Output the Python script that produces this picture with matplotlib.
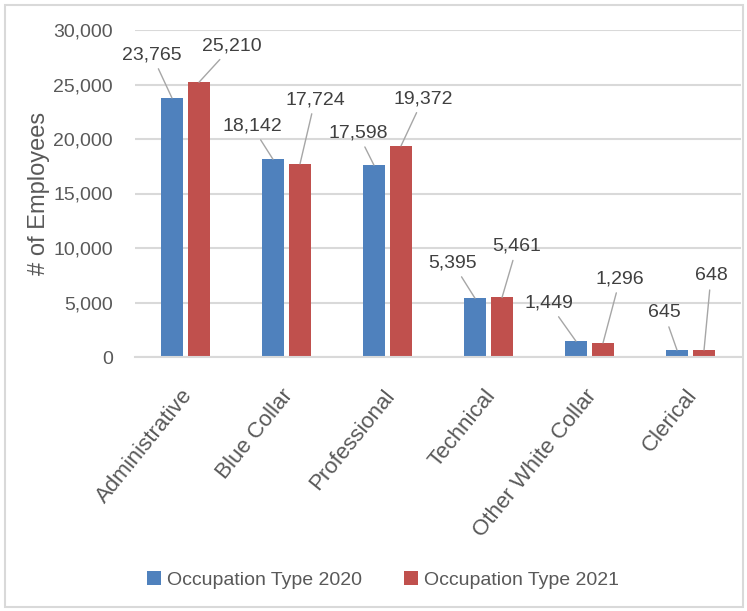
import matplotlib
matplotlib.use("Agg")
import matplotlib.pyplot as plt
import matplotlib.patches as patches
import numpy as np

# Data
categories = ["Administrative", "Blue Collar", "Professional",
              "Technical", "Other White Collar", "Clerical"]
values_2020 = [23765, 18142, 17598, 5395, 1449, 645]
values_2021 = [25210, 17724, 19372, 5461, 1296, 648]
series_names = ["Occupation Type 2020", "Occupation Type 2021"]
y_ticks = [0, 5000, 10000, 15000, 20000, 25000, 30000]

# Label placement (pixel offsets of label centre from bar top)
offsets_2020 = [(-20, 43), (-21, 33), (-16, 32), (-22, 35), (-27, 38), (-13, 37)]
offsets_2021 = [(33, 36), (15, 64), (22, 47), (15, 51), (17, 64), (7, 74)]

colors = {
    'blue': '#4F81BD',
    'red': '#C0504D',
    'grid': '#D9D9D9',
    'text': '#595959',
    'label': '#404040',
}

plt.rcParams['font.family'] = ['Liberation Sans', 'DejaVu Sans']

fig = plt.figure(figsize=(7.47, 6.11), dpi=100)
ax = fig.add_axes([135 / 747, 1 - 357 / 611, (741 - 135) / 747, (357 - 30) / 611])

x = np.arange(len(categories))
width = 0.22
shift = 0.134
bars_a = ax.bar(x - shift, values_2020, width, color=colors['blue'], label=series_names[0], zorder=2)
bars_b = ax.bar(x + shift, values_2021, width, color=colors['red'], label=series_names[1], zorder=2)

ax.set_xlim(-0.5, len(categories) - 0.5)
ax.set_ylim(0, 30000)
ax.set_yticks(y_ticks)
ax.set_yticklabels([f"{v:,}" for v in y_ticks], fontsize=14, color=colors['text'])
ax.tick_params(axis='y', length=0, pad=16)
ax.tick_params(axis='x', length=0)
ax.yaxis.grid(True, color=colors['grid'], linewidth=1.5, zorder=0)
ax.set_axisbelow(True)
for side in ['top', 'right', 'left']:
    ax.spines[side].set_visible(False)
ax.spines['bottom'].set_color(colors['grid'])
ax.spines['bottom'].set_linewidth(1.5)

ax.set_ylabel("# of Employees", fontsize=17, color=colors['text'], labelpad=2)

# Category labels, rotated
ax.set_xticks(x)
ax.set_xticklabels([])
for i, name in enumerate(categories):
    ax.annotate(name, xy=(i, 0), xycoords=('data', 'axes fraction'),
                xytext=(3, -35), textcoords='offset pixels',
                rotation=51, rotation_mode='anchor', ha='right', va='center',
                fontsize=16, color=colors['text'])

# Data labels with leader lines
for bars, vals, offs in [(bars_a, values_2020, offsets_2020), (bars_b, values_2021, offsets_2021)]:
    for bar, v, (dx, dy) in zip(bars, vals, offs):
        ax.annotate(f"{v:,}", xy=(bar.get_x() + bar.get_width() / 2, v),
                    xytext=(dx, dy), textcoords='offset pixels',
                    ha='center', va='center', fontsize=14, color=colors['label'],
                    arrowprops=dict(arrowstyle='-', color='#A6A6A6', lw=1,
                                    shrinkA=2, shrinkB=0))

fig.legend(handles=[bars_a, bars_b], labels=series_names, loc='center',
           bbox_to_anchor=(383 / 747, 1 - 580 / 611), ncol=2, frameon=False,
           fontsize=14, handlelength=0.7, handleheight=0.7, handletextpad=0.3,
           columnspacing=2.2, labelcolor=colors['text'])

# Chart border
fig.patches.append(patches.Rectangle((5 / 747, 4 / 611), 738 / 747, 602 / 611,
                                     transform=fig.transFigure, fill=False,
                                     edgecolor='#D9D9D9', linewidth=1.5))

fig.savefig("out.png", dpi=100, facecolor='white')
